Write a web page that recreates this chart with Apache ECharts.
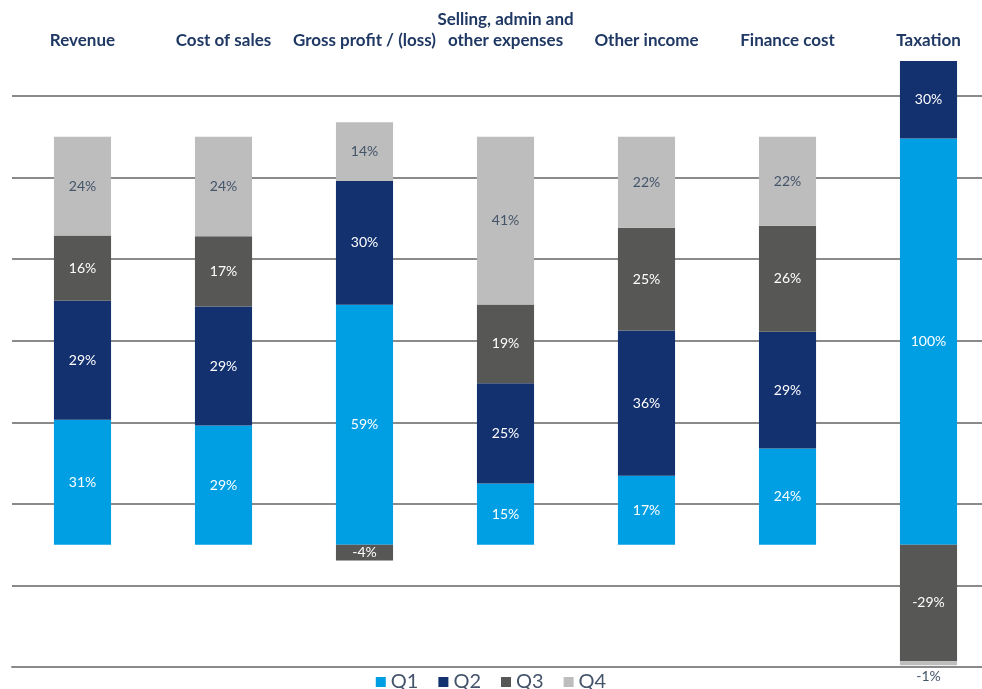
<!DOCTYPE html>
<html>
<head>
<meta charset="utf-8">
<script src="https://cdn.jsdelivr.net/npm/echarts@6/dist/echarts.min.js"></script>
<style>
html,body{margin:0;padding:0;background:#fff;}
#chart{width:982px;height:689px;}
</style>
</head>
<body>
<div id="chart"></div>
<script>
const categories = ['Revenue', 'Cost of sales', 'Gross profit / (loss)', 'Selling, admin and\nother expenses', 'Other income', 'Finance cost', 'Taxation'];
const seriesNames = ['Q1', 'Q2', 'Q3', 'Q4'];
const q1 = [30.6, 29.2, 58.8, 15.0, 16.9, 23.6, 99.6];
const q2 = [29.2, 29.2, 30.4, 24.6, 35.6, 28.6, 30];
const q3 = [16.0, 17.2, -3.9, 19.3, 25.2, 26.0, -28.6];
const q4 = [24.2, 24.4, 14.4, 41.1, 22.3, 21.8, -1.0];
const yTicks = [-30, -10, 10, 30, 50, 70, 90, 110];

const colors = ['#009FE3', '#13306F', '#575756', '#BDBDBD'];
const labelColors = ['#ffffff', '#ffffff', '#ffffff', '#44546A'];
const FONT = 'Lato, "Open Sans", sans-serif';

const chart = echarts.init(document.getElementById('chart'));
const allData = [q1, q2, q3, q4];

const series = allData.map((arr, i) => ({
  name: seriesNames[i],
  type: 'bar',
  stack: 'total',
  barWidth: '40.5%',
  clip: true,
  itemStyle: { color: colors[i] },
  label: {
    show: true,
    position: 'inside',
    color: labelColors[i],
    fontSize: 14,
    fontFamily: FONT,
    formatter: p => Math.round(p.value) + '%'
  },
  data: arr.map((v, j) => {
    if (i === 3 && v < 0) {
      return { value: v, label: { position: 'bottom', distance: 4, color: '#44546A' } };
    }
    return v;
  })
}));

chart.setOption({
  animation: false,
  color: colors,
  grid: { left: 12, right: -17, top: 61, bottom: 22, containLabel: false, outerBoundsMode: 'none' },
  legend: {
    data: seriesNames,
    top: 667,
    left: 'center',
    itemWidth: 10,
    itemHeight: 10,
    itemGap: 20,
    icon: 'rect',
    textStyle: { color: '#44546A', fontSize: 20, fontFamily: FONT }
  },
  xAxis: [{
    type: 'category',
    data: categories,
    position: 'top',
    axisLine: { show: false },
    axisTick: { show: false },
    axisLabel: {
      color: '#1F3864',
      fontWeight: 'bold',
      fontSize: 17,
      fontFamily: FONT,
      margin: 10,
      interval: 0,
      lineHeight: 21
    }
  }, {
    type: 'category',
    data: categories,
    position: 'bottom',
    axisLine: { show: true, onZero: true, lineStyle: { color: '#8a8a8a', width: 2 } },
    axisTick: { show: false },
    axisLabel: { show: false }
  }],
  yAxis: {
    type: 'value',
    min: yTicks[0],
    max: 118.6,
    interval: 20,
    axisLabel: { show: false },
    axisLine: { show: false },
    axisTick: { show: false },
    splitLine: { show: true, showMaxLine: false, lineStyle: { color: '#8a8a8a', width: 2 } }
  },
  series: series
});
</script>
</body>
</html>
